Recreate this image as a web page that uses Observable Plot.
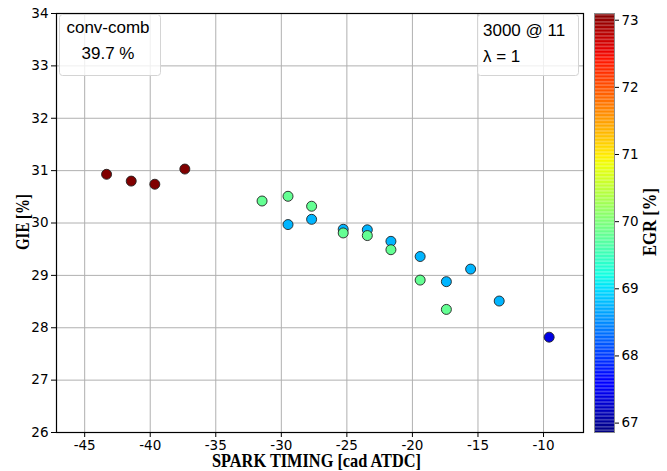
<!DOCTYPE html>
<html><head><meta charset="utf-8">
<script src="https://cdn.jsdelivr.net/npm/d3@7"></script>
<script src="https://cdn.jsdelivr.net/npm/@observablehq/plot@0.6"></script>
<style>
body{margin:0;background:#fff;}
#wrap{position:relative;width:667px;height:471px;overflow:hidden;background:#fff;}
#main{position:absolute;left:0;top:0;}
#cbar{position:absolute;left:590px;top:0;}
svg{overflow:visible;}
</style></head><body><div id="wrap"><div id="main"></div><div id="cbar"></div></div>
<script>
// ---- data ----
const sparkTiming = [-29.49, -27.69, -25.28, -23.44, -21.64, -19.41, -17.41, -15.56, -13.38, -9.57,
                     -31.47, -29.49, -27.69, -25.28, -23.44, -21.64, -19.41, -17.41,
                     -43.33, -41.45, -39.65, -37.36];
const gie = [29.97, 30.07, 29.88, 29.87, 29.65, 29.36, 28.88, 29.12, 28.51, 27.82,
             30.42, 30.51, 30.32, 29.81, 29.76, 29.49, 28.91, 28.35,
             30.93, 30.80, 30.74, 31.03];
const egr = [68.75, 68.75, 68.75, 68.75, 68.75, 68.75, 68.75, 68.75, 68.75, 67.4,
             69.8, 69.8, 69.8, 69.8, 69.8, 69.8, 69.8, 69.8,
             73.1, 73.1, 73.1, 73.1];
const xTicks = [-45, -40, -35, -30, -25, -20, -15, -10];
const yTicks = [26, 27, 28, 29, 30, 31, 32, 33, 34];
const egrTicks = [67, 68, 69, 70, 71, 72, 73];
const xDomain = [-47.15, -6.95];
const yDomain = [26, 34];
const egrDomain = [66.86, 73.1];
const xLabel = "SPARK TIMING [cad ATDC]";
const yLabel = "GIE [%]";
const cLabel = "EGR [%]";
const boxLeftLines = ["conv-comb", "39.7 %"];
const boxRightLines = ["3000 @ 11", "λ = 1"];

// ---- jet colormap (matplotlib segment data) ----
const JR = [[0,0],[0.35,0],[0.66,1],[0.89,1],[1,0.5]];
const JG = [[0,0],[0.125,0],[0.375,1],[0.64,1],[0.91,0],[1,0]];
const JB = [[0,0.5],[0.11,1],[0.34,1],[0.65,0],[1,0]];
function seg(p, t){
  for (let i = 1; i < p.length; i++) {
    if (t <= p[i][0]) { const [x0,y0] = p[i-1], [x1,y1] = p[i]; return y0 + (y1-y0)*(t-x0)/(x1-x0); }
  }
  return p[p.length-1][1];
}
const jet = t => { t = Math.max(0, Math.min(1, t)); const c = v => Math.round(255*v);
  return `rgb(${c(seg(JR,t))},${c(seg(JG,t))},${c(seg(JB,t))})`; };
const colorOpts = {type: "linear", domain: egrDomain, interpolate: jet};

const tickFont = {fontFamily: "DejaVu Sans", fontSize: "13.5px", color: "#000", background: "transparent"};

const data = sparkTiming.map((x, i) => ({x, y: gie[i], egr: egr[i]}));

const main = Plot.plot({
  width: 590, height: 471,
  marginLeft: 56, marginRight: 7, marginTop: 13, marginBottom: 39,
  style: tickFont,
  x: {domain: xDomain},
  y: {domain: yDomain},
  color: colorOpts,
  marks: [
    Plot.gridX(xTicks, {stroke: "#b0b0b0", strokeOpacity: 1, strokeWidth: 1}),
    Plot.gridY(yTicks, {stroke: "#b0b0b0", strokeOpacity: 1, strokeWidth: 1}),
    Plot.axisX(xTicks, {tickSize: 5, tickPadding: 3, label: null, tickFormat: d => String(d)}),
    Plot.axisY(yTicks, {tickSize: 5, tickPadding: 3, label: null, tickFormat: d => String(d)}),
    Plot.dot(data, {x: "x", y: "y", fill: "egr", r: 5, stroke: "#222", strokeWidth: 0.9}),
    Plot.frame({stroke: "#000", strokeWidth: 1.2})
  ]
});
document.getElementById("main").appendChild(main);

// axis titles: condensed bold serif, placed explicitly
function title(root, s, x, y, rot, len){
  d3.select(root).append("text")
    .attr("transform", `translate(${x},${y}) rotate(${rot})`)
    .attr("text-anchor", "middle").attr("dominant-baseline", "central")
    .attr("font-family", "Liberation Serif").attr("font-weight", "bold").attr("font-size", 19)
    .attr("fill", "#000").attr("textLength", len).attr("lengthAdjust", "spacingAndGlyphs")
    .text(s);
}
title(main, xLabel, 316.5, 460, 0, 209);
title(main, yLabel, 22, 222, -90, 56);

// annotation boxes
const svg = d3.select(main);
function box(x, y, w, h, lines, anchor, tx, baselines){
  const g = svg.append("g");
  g.append("rect").attr("x", x).attr("y", y).attr("width", w).attr("height", h)
    .attr("rx", 3).attr("fill", "#fff").attr("fill-opacity", 0.8)
    .attr("stroke", "#d4d4d4").attr("stroke-width", 1);
  lines.forEach((s, i) => g.append("text").attr("x", tx).attr("y", baselines[i])
    .attr("text-anchor", anchor).attr("font-family", "Liberation Sans").attr("font-size", 17)
    .attr("fill", "#000").text(s));
}
box(59.5, 14.5, 101, 61, boxLeftLines, "middle", 108, [33.3, 59.3]);
box(477.5, 14.5, 101, 61, boxRightLines, "start", 483, [36, 62.3]);

// colorbar
const N = 300;
const slices = d3.range(N).map(i => ({
  y1: egrDomain[0] + (egrDomain[1] - egrDomain[0]) * i / N,
  y2: egrDomain[0] + (egrDomain[1] - egrDomain[0]) * (i + 1) / N
}));
const cbar = Plot.plot({
  width: 77, height: 471,
  marginLeft: 4, marginRight: 53, marginTop: 13, marginBottom: 39,
  style: tickFont,
  x: {domain: [0, 1], axis: null},
  y: {domain: egrDomain, axis: null},
  color: colorOpts,
  marks: [
    Plot.rect(slices, {x1: 0, x2: 1, y1: "y1", y2: "y2", fill: d => (d.y1 + d.y2) / 2}),
    Plot.frame({stroke: "#8c8c8c", strokeWidth: 1}),
    Plot.axisY(egrTicks, {anchor: "right", tickSize: 4, tickPadding: 3, label: null, tickFormat: d => String(d)})
  ]
});
document.getElementById("cbar").appendChild(cbar);
title(cbar, cLabel, 59, 222, -90, 68);
</script>
</body></html>
